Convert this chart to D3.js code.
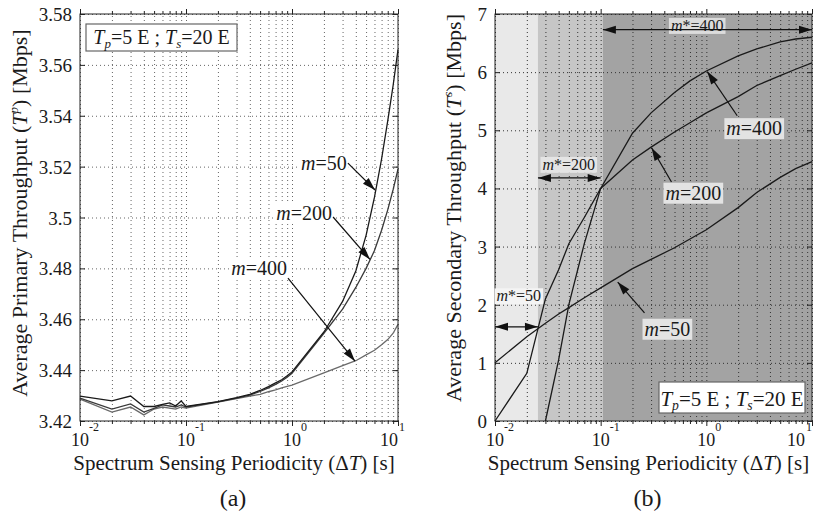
<!DOCTYPE html>
<html>
<head>
<meta charset="utf-8">
<script src="https://cdn.jsdelivr.net/npm/d3@7/dist/d3.min.js"></script>
<style>
body { margin: 0; background: #fff; }
svg text { font-family: "Liberation Serif", "Times New Roman", serif; fill: #1a1a1a; }
</style>
</head>
<body>
<svg id="chart" width="815" height="514"></svg>
<script>
// Delta T sampling [s]
const dtPrimary = [0.01, 0.02, 0.03, 0.04, 0.05, 0.06, 0.07, 0.08, 0.09,
                   0.1, 0.2, 0.3, 0.4, 0.5, 0.6, 0.7, 0.8, 0.9,
                   1, 2, 3, 4, 5, 6, 7, 8, 9, 10];
const dtSecondary = [0.01, 0.02, 0.03, 0.04, 0.05, 0.07, 0.1, 0.2, 0.3, 0.5, 0.7, 1, 2, 3, 5, 7, 10];

// (a) average primary throughput [Mbps]
const primM50  = [3.4298, 3.4279, 3.4298, 3.4257, 3.4257, 3.4265, 3.4271, 3.4259, 3.4279,
                  3.4257, 3.4276, 3.4292, 3.4305, 3.4320, 3.4335, 3.4350, 3.4362, 3.4378,
                  3.4393, 3.4550, 3.4670, 3.4790, 3.4930, 3.5080, 3.5230, 3.5380, 3.5520, 3.5660];
const primM200 = [3.4290, 3.4247, 3.4267, 3.4235, 3.4250, 3.4263, 3.4259, 3.4255, 3.4263,
                  3.4255, 3.4275, 3.4290, 3.4302, 3.4316, 3.4330, 3.4344, 3.4357, 3.4372,
                  3.4388, 3.4545, 3.4640, 3.4725, 3.4800, 3.4870, 3.4950, 3.5030, 3.5110, 3.5190];
const primM400 = [3.4286, 3.4235, 3.4255, 3.4224, 3.4247, 3.4255, 3.4251, 3.4247, 3.4255,
                  3.4251, 3.4274, 3.4288, 3.4298, 3.4305, 3.4315, 3.4322, 3.4330, 3.4336,
                  3.4341, 3.4389, 3.4418, 3.4437, 3.4460, 3.4478, 3.4500, 3.4520, 3.4545, 3.4580];

// (b) average secondary throughput [Mbps]
const secM50  = [1.00, 1.45, 1.68, 1.84, 1.95, 2.12, 2.29, 2.62, 2.78, 2.98, 3.13, 3.29, 3.67, 3.93, 4.19, 4.34, 4.46];
const secM200 = [0.00, 0.82, 2.10, 2.60, 3.05, 3.50, 4.00, 4.49, 4.71, 4.97, 5.13, 5.30, 5.58, 5.77, 5.94, 6.05, 6.16];
const secM400 = [null, null, 0.00, 1.05, 2.00, 3.05, 4.00, 4.95, 5.30, 5.65, 5.85, 6.02, 6.28, 6.40, 6.52, 6.57, 6.60];

// optimal-m regions in (b): m*=50, m*=200, m*=400
const optBounds = [0.01, 0.0255, 0.105, 10];
const optLabels = ['50', '200', '400'];

const yTicksA = [3.42, 3.44, 3.46, 3.48, 3.5, 3.52, 3.54, 3.56, 3.58];
const yTicksB = [0, 1, 2, 3, 4, 5, 6, 7];
const xDecades = [0.01, 0.1, 1, 10];

const svg = d3.select('#chart');
const plotTop = 14, plotBottom = 421;

function drawPanel(opt) {
    const x = d3.scaleLog().domain([0.01, 10]).range([opt.x0, opt.x1]);
    const y = d3.scaleLinear().domain(opt.yDomain).range([plotBottom, plotTop]);
    const g = svg.append('g');
    const w = opt.x1 - opt.x0, h = plotBottom - plotTop;

    if (opt.shade) {
        g.selectAll('rect.shade').data(opt.shade).join('rect')
            .attr('class', 'shade')
            .attr('x', (d, i) => x(optBounds[i]))
            .attr('width', (d, i) => x(optBounds[i + 1]) - x(optBounds[i]))
            .attr('y', plotTop).attr('height', h)
            .attr('fill', d => d);
    }

    // dotted grid
    g.append('g').attr('transform', `translate(0,${plotBottom})`)
        .call(d3.axisBottom(x).tickValues(x.ticks()).tickSize(-h).tickFormat(''))
        .call(s => s.select('.domain').remove())
        .selectAll('line').attr('stroke', opt.gridColor).attr('stroke-dasharray', '1,3');
    g.append('g').attr('transform', `translate(${opt.x0},0)`)
        .call(d3.axisLeft(y).tickValues(opt.yTicks).tickSize(-w).tickFormat(''))
        .call(s => s.select('.domain').remove())
        .selectAll('line').attr('stroke', opt.gridColor).attr('stroke-dasharray', '1,3');

    // inner tick marks
    const minorTicks = x.ticks().filter(v => !xDecades.includes(v));
    [[plotBottom, -1], [plotTop, 1]].forEach(([yy, s]) => {
        g.append('g').attr('transform', `translate(0,${yy})`)
            .call(d3.axisBottom(x).tickValues(xDecades).tickSize(s * -5).tickFormat(''))
            .call(a => a.select('.domain').remove());
        g.append('g').attr('transform', `translate(0,${yy})`)
            .call(d3.axisBottom(x).tickValues(minorTicks).tickSize(s * -3).tickFormat(''))
            .call(a => a.select('.domain').remove());
    });
    [[opt.x0, -1], [opt.x1, 1]].forEach(([xx, s]) => {
        g.append('g').attr('transform', `translate(${xx},0)`)
            .call(d3.axisLeft(y).tickValues(opt.yTicks).tickSize(s * 5).tickFormat(''))
            .call(a => a.select('.domain').remove());
    });
    g.selectAll('.tick line').filter(function () { return !this.getAttribute('stroke-dasharray'); })
        .attr('stroke', '#222');

    // curves
    const line = d3.line().defined(d => d[1] !== null).x(d => x(d[0])).y(d => y(d[1]));
    opt.series.forEach(s => {
        g.append('path').datum(opt.dt.map((v, i) => [v, s.values[i]]))
            .attr('fill', 'none').attr('stroke', s.color).attr('stroke-width', 1.3)
            .attr('d', line);
    });

    // frame
    g.append('rect').attr('x', opt.x0).attr('y', plotTop).attr('width', w).attr('height', h)
        .attr('fill', 'none').attr('stroke', '#222').attr('stroke-width', 1);

    // tick labels
    opt.yTicks.forEach(v => {
        g.append('text').attr('x', opt.x0 - 8).attr('y', y(v) + 7)
            .attr('text-anchor', 'end').attr('font-size', 19).text(opt.yFmt(v));
    });
    xDecades.forEach((v, i) => {
        const e = Math.round(Math.log10(v));
        const last = i === xDecades.length - 1;
        const tx = last ? Math.min(x(v), 805) : x(v);
        g.append('text').attr('x', tx).attr('y', 446)
            .attr('text-anchor', last ? 'end' : 'middle').attr('font-size', 18).text('10');
        g.append('text').attr('x', last ? tx + 1 : tx + 9).attr('y', 431)
            .attr('font-size', 12).text(e < 0 ? '-' + (-e) : e);
    });

    // axis titles
    const xt = g.append('text').attr('x', (opt.x0 + opt.x1) / 2 - 5).attr('y', 470)
        .attr('text-anchor', 'middle').attr('font-size', 21);
    xt.append('tspan').text('Spectrum Sensing Periodicity (\u0394');
    xt.append('tspan').attr('font-style', 'italic').text('T');
    xt.append('tspan').text(') [s]');

    const yt = g.append('text')
        .attr('transform', `translate(${opt.titleX},${opt.titleY}) rotate(-90)`)
        .attr('text-anchor', 'middle').attr('font-size', 22);
    yt.append('tspan').text(opt.yTitle + ' (');
    yt.append('tspan').attr('font-style', 'italic').text('T');
    yt.append('tspan').attr('font-style', 'italic').attr('font-size', 13).attr('dy', -9).text(opt.sup);
    yt.append('tspan').attr('dy', 9).text(') [Mbps]');

    g.append('text').attr('x', (opt.x0 + opt.x1) / 2 - 6).attr('y', 506)
        .attr('text-anchor', 'middle').attr('font-size', 24).text(opt.tag);

    return {g, x, y};
}

function addLabel(g, cx, cy, parts, size, bg) {
    const t = g.append('text').attr('x', cx).attr('y', cy + size * 0.33)
        .attr('text-anchor', 'middle').attr('font-size', size);
    parts.forEach(p => t.append('tspan').attr('font-style', p[1] ? 'italic' : null).text(p[0]));
    if (bg) {
        const b = t.node().getBBox();
        g.insert('rect', () => t.node()).attr('x', b.x - 2).attr('y', b.y + 1)
            .attr('width', b.width + 4).attr('height', b.height - 1).attr('fill', bg);
    }
}

function addArrow(g, x1, y1, x2, y2, both) {
    const ang = Math.atan2(y2 - y1, x2 - x1);
    const head = (px, py, a) => {
        const L = 13, W = 4;
        const bx = px - L * Math.cos(a), by = py - L * Math.sin(a);
        return `M${px},${py}L${bx + W * Math.sin(a)},${by - W * Math.cos(a)}L${bx - W * Math.sin(a)},${by + W * Math.cos(a)}Z`;
    };
    g.append('line').attr('x1', x1).attr('y1', y1).attr('x2', x2).attr('y2', y2)
        .attr('stroke', '#111').attr('stroke-width', 1.2);
    g.append('path').attr('d', head(x2, y2, ang)).attr('fill', '#111');
    if (both) g.append('path').attr('d', head(x1, y1, ang + Math.PI)).attr('fill', '#111');
}

function addParamBox(g, x0, y0, w, h, size, bg) {
    g.append('rect').attr('x', x0).attr('y', y0).attr('width', w).attr('height', h)
        .attr('fill', bg).attr('stroke', '#666').attr('stroke-width', 1.2);
    const t = g.append('text').attr('x', x0 + w / 2).attr('y', y0 + h - 7)
        .attr('text-anchor', 'middle').attr('font-size', size);
    t.append('tspan').attr('font-style', 'italic').text('T');
    t.append('tspan').attr('font-style', 'italic').attr('font-size', size * 0.65).attr('dy', 4).text('p');
    t.append('tspan').attr('dy', -4).text('=5 E ; ');
    t.append('tspan').attr('font-style', 'italic').text('T');
    t.append('tspan').attr('font-style', 'italic').attr('font-size', size * 0.65).attr('dy', 4).text('s');
    t.append('tspan').attr('dy', -4).text('=20 E');
}

// ---- panel (a)
const A = drawPanel({
    x0: 80, x1: 398, yDomain: [3.42, 3.58], yTicks: yTicksA, yFmt: d => d3.format('')(+d.toFixed(2)),
    dt: dtPrimary, gridColor: '#666',
    series: [{values: primM400, color: '#6a6a6a'}, {values: primM200, color: '#3a3a3a'}, {values: primM50, color: '#1a1a1a'}],
    yTitle: 'Average Primary Throughput', sup: 'p', titleX: 27, titleY: 213, tag: '(a)'
});
addParamBox(A.g, 86, 24, 151, 27, 20, '#fff');
addLabel(A.g, A.x(2.0), A.y(3.5214), [['m', 1], ['=50']], 20, '#fff');
addArrow(A.g, A.x(3.37), A.y(3.5214), A.x(6.07), A.y(3.5108));
addLabel(A.g, A.x(1.30), A.y(3.5018), [['m', 1], ['=200']], 20, '#fff');
addArrow(A.g, A.x(2.44), A.y(3.5002), A.x(5.44), A.y(3.4835));
addLabel(A.g, A.x(0.489), A.y(3.4798), [['m', 1], ['=400']], 20, '#fff');
addArrow(A.g, A.x(0.916), A.y(3.4762), A.x(3.93), A.y(3.4435));

// ---- panel (b)
const B = drawPanel({
    x0: 495, x1: 812, yDomain: [0, 7], yTicks: yTicksB, yFmt: d => d,
    dt: dtSecondary, gridColor: '#333', shade: ['#e9e9e9', '#c6c6c6', '#a3a3a3'],
    series: [{values: secM50, color: '#1a1a1a'}, {values: secM200, color: '#1a1a1a'}, {values: secM400, color: '#1a1a1a'}],
    yTitle: 'Average Secondary Throughput', sup: 's', titleX: 461, titleY: 208, tag: '(b)'
});
addLabel(B.g, B.x(0.82), B.y(6.80), [['m', 1], ['*=' + optLabels[2]]], 16, '#dcdcdc');
addArrow(B.g, B.x(optBounds[2]), B.y(6.73), B.x(optBounds[3]), B.y(6.73), true);
addLabel(B.g, B.x(0.0499), B.y(4.41), [['m', 1], ['*=' + optLabels[1]]], 16, '#e4e4e4');
addArrow(B.g, B.x(optBounds[1]), B.y(4.18), B.x(0.1), B.y(4.18), true);
addLabel(B.g, B.x(0.0168), B.y(2.15), [['m', 1], ['*=' + optLabels[0]]], 16, '#f4f4f4');
addArrow(B.g, B.x(optBounds[0]), B.y(1.62), B.x(optBounds[1]), B.y(1.62), true);

addLabel(B.g, B.x(2.84), B.y(5.03), [['m', 1], ['=400']], 20, '#e3e3e3');
addArrow(B.g, B.x(1.96), B.y(5.25), B.x(1.02), B.y(6.01));
addLabel(B.g, B.x(0.753), B.y(3.92), [['m', 1], ['=200']], 20, '#e3e3e3');
addArrow(B.g, B.x(0.468), B.y(4.11), B.x(0.303), B.y(4.70));
addLabel(B.g, B.x(0.428), B.y(1.58), [['m', 1], ['=50']], 20, '#e3e3e3');
addArrow(B.g, B.x(0.26), B.y(1.86), B.x(0.145), B.y(2.39));
addParamBox(B.g, 659, 382, 146, 31, 21, '#fff');
</script>
</body>
</html>
